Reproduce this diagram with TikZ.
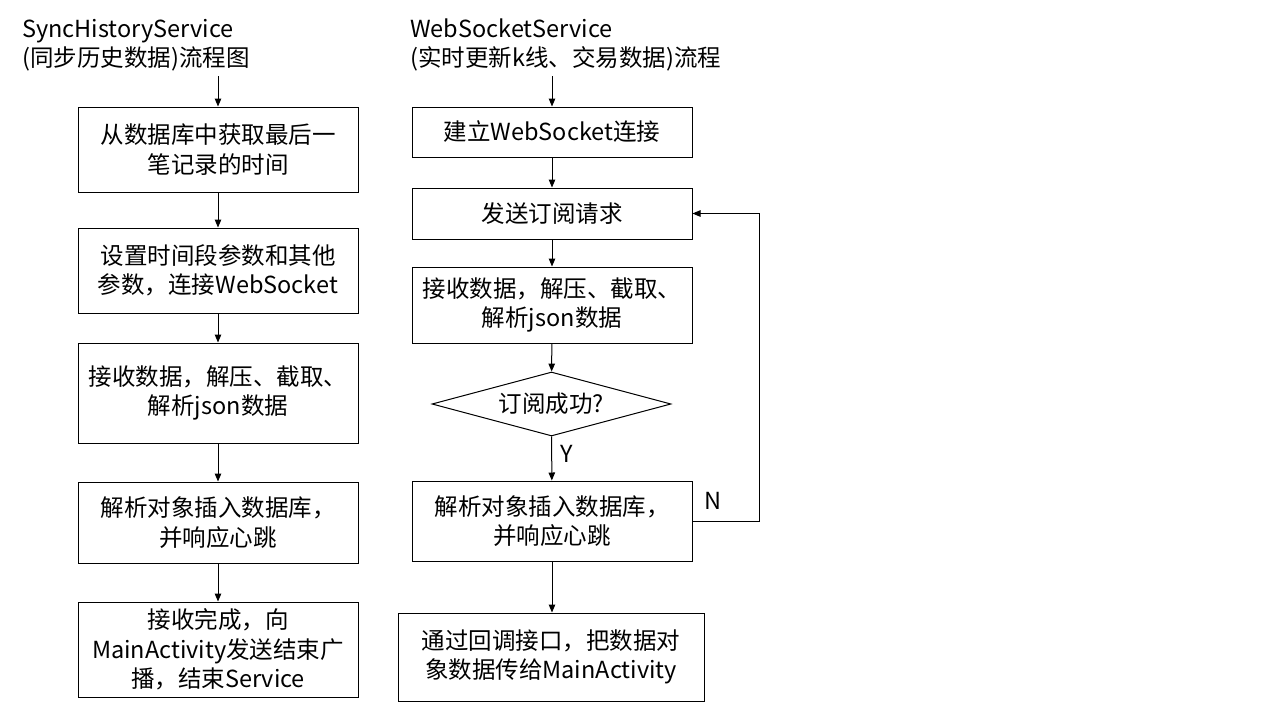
\documentclass[tikz,border=0pt]{standalone}
\usepackage{fontspec}
\setmainfont{Noto Sans CJK SC}
\usetikzlibrary{arrows.meta,shapes.geometric}
\begin{document}
\begin{tikzpicture}[x=1pt,y=-1pt,
  txt/.style={font=\fontsize{23.5}{29.5}\selectfont, inner sep=0pt, align=center},
  box/.style={txt, draw=black, line width=1pt, rectangle},
  dia/.style={txt, draw=black, line width=1pt, diamond, aspect=3.7},
  arr/.style={line width=1pt, -{Triangle[length=8pt,width=6.5pt]}}]
\useasboundingbox (0,0) rectangle (1280,720);
\fill[white] (0,0) rectangle (1280,720);
% titles
\node[txt, align=left, anchor=west] (t1) at (22,45) {SyncHistoryService\\(同步历史数据)流程图};
\node[txt, align=left, anchor=west] (t2) at (410,45) {WebSocketService\\(实时更新k线、交易数据)流程};
% left column
\coordinate (s1) at (218,76);
\node[box, minimum width=280pt, minimum height=85pt] (b1) at (218,149.5) {从数据库中获取最后一\\笔记录的时间};
\node[box, minimum width=280pt, minimum height=85pt] (b2) at (218,270.5) {设置时间段参数和其他\\参数，连接WebSocket};
\node[box, minimum width=280pt, minimum height=100pt] (b3) at (218,393) {接收数据，解压、截取、\\解析json数据};
\node[box, minimum width=280pt, minimum height=81pt] (b4) at (218,522.5) {解析对象插入数据库，\\并响应心跳};
\node[box, minimum width=280pt, minimum height=95pt] (b5) at (218,649.5) {接收完成，向\\MainActivity发送结束广\\播，结束Service};
\draw[arr] (s1) -- (b1);
\draw[arr] (b1) -- (b2);
\draw[arr] (b2) -- (b3);
\draw[arr] (b3) -- (b4);
\draw[arr] (b4) -- (b5);
% right column
\coordinate (s2) at (552,76);
\node[box, minimum width=280pt, minimum height=50pt] (ra) at (552,132) {建立WebSocket连接};
\node[box, minimum width=280pt, minimum height=51pt] (rb) at (552,213.5) {发送订阅请求};
\node[box, minimum width=280pt, minimum height=76pt] (rc) at (552,305) {接收数据，解压、截取、\\解析json数据};
\node[dia, minimum width=239pt, minimum height=64pt] (rd) at (551.5,404) {订阅成功?};
\node[box, minimum width=280pt, minimum height=80pt] (re) at (552,521) {解析对象插入数据库，\\并响应心跳};
\node[box, minimum width=306pt, minimum height=88pt] (rf) at (551,657) {通过回调接口，把数据对\\象数据传给MainActivity};
\coordinate (lp) at (759,521);
\draw[arr] (s2) -- (ra);
\draw[arr] (ra) -- (rb);
\draw[arr] (rb) -- (rc);
\draw[arr] (rc) -- (rd);
\draw[arr] (rd) -- (re);
\draw[arr] (re) -- (rf.north -| re.south);
\draw[arr] (re.east) -- (lp) |- (rb.east);
\node[txt] (ly) at (567,454) {Y};
\node[txt] (ln) at (713,501) {N};
\end{tikzpicture}
\end{document}
